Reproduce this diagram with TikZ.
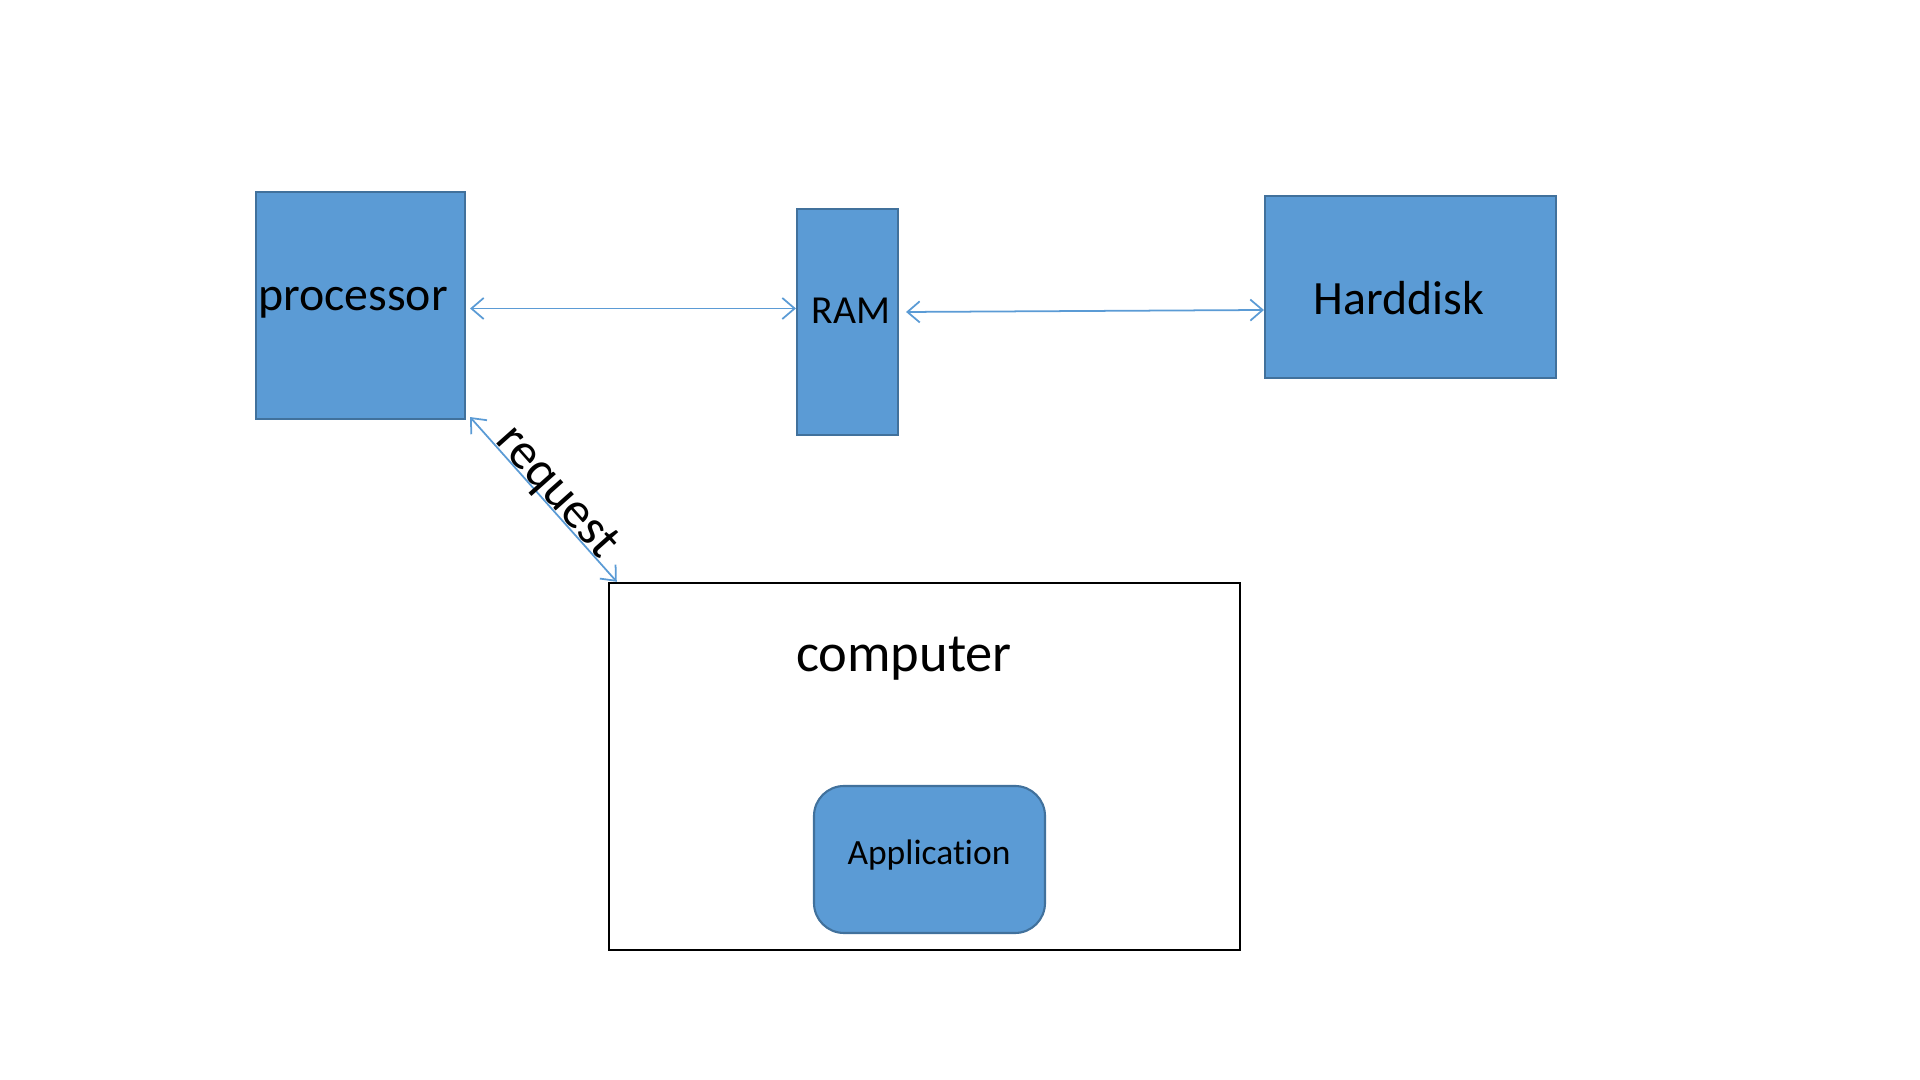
\documentclass[tikz,border=0pt]{standalone}
\usepackage{fontspec}
\setmainfont{Carlito}[Ligatures=NoCommon]
\usepackage{tikz}
\usetikzlibrary{arrows.meta,positioning}
\definecolor{officeblue}{RGB}{91,155,213}
\definecolor{officeedge}{RGB}{65,113,156}
\tikzset{
  unit/.style={draw=officeedge,fill=officeblue,line width=0.6pt,inner sep=0pt},
  link/.style={draw=officeblue,line width=0.5pt,{Straight Barb[length=3.5pt,width=6pt]}-{Straight Barb[length=3.5pt,width=6pt]}},
}

\begin{document}
\begin{tikzpicture}[
        box/.style={draw=black,line width=0.7pt,inner sep=0pt},
        ]
        \useasboundingbox (0,0) rectangle (19.2,10.8);
        % hardware
        \node[unit,minimum width=2.09cm,minimum height=2.27cm] (processor) at (3.605,7.745) {};
        \node at (3.53,7.775) (proclabel) {\fontsize{13.6}{16}\selectfont processor};
        \node[unit,minimum width=1.01cm,minimum height=2.26cm] (ram) at (8.475,7.58) {};
        \node at (8.51,7.69) (ramlabel) {\fontsize{11.3}{13}\selectfont RAM};
        \node[unit,minimum width=2.91cm,minimum height=1.82cm] (harddisk) at (14.105,7.93) {};
        \node at (13.99,7.82) (hdlabel) {\fontsize{13.6}{16}\selectfont Harddisk};
        % software side
        \node[box,minimum width=6.31cm,minimum height=3.67cm] (computer) at (9.245,3.135) {};
        \node at (9.04,4.21) (complabel) {\fontsize{15.5}{18}\selectfont computer};
        \node[unit,rounded corners=0.3cm,minimum width=2.31cm,minimum height=1.47cm] (application) at (9.295,2.205) {};
        \node at (9.29,2.25) (applabel) {\fontsize{10.1}{12}\selectfont Application};
        % connections
        \draw[link] ([xshift=0.04cm,yshift=-0.03cm]processor.east) -- ([yshift=-0.03cm]processor.east -| ram.west);
        \draw[link] ([shift={(0.07cm,0.1cm)}]ram.east) -- ([yshift=-0.23cm]harddisk.west);
        \draw[link] ([shift={(0.04cm,0.03cm)}]processor.south east) -- ([xshift=0.09cm]computer.north west)
          node[midway,sloped,above,inner sep=0pt,yshift=-2pt,xshift=1pt,text=black] (reqlabel) {\fontsize{14.6}{17}\selectfont request};
\end{tikzpicture}
\end{document}
